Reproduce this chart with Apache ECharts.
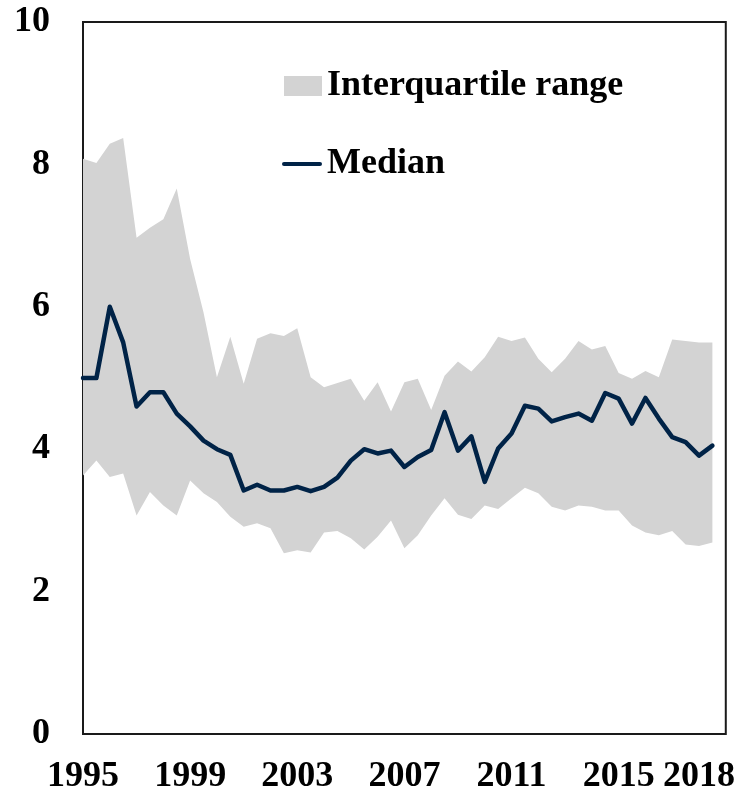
<!DOCTYPE html>
<html>
<head>
<meta charset="utf-8">
<script src="https://cdn.jsdelivr.net/npm/echarts@6/dist/echarts.min.js"></script>
<style>
  html, body { margin: 0; padding: 0; background: #fff; }
  #chart { width: 738px; height: 795px; }
</style>
</head>
<body>
<div id="chart"></div>
<script>
// half-year periods, last one left empty so the axis runs past the data
const periods = [
  '1995H1', '1995H2', '1996H1', '1996H2', '1997H1', '1997H2', '1998H1', '1998H2',
  '1999H1', '1999H2', '2000H1', '2000H2', '2001H1', '2001H2', '2002H1', '2002H2',
  '2003H1', '2003H2', '2004H1', '2004H2', '2005H1', '2005H2', '2006H1', '2006H2',
  '2007H1', '2007H2', '2008H1', '2008H2', '2009H1', '2009H2', '2010H1', '2010H2',
  '2011H1', '2011H2', '2012H1', '2012H2', '2013H1', '2013H2', '2014H1', '2014H2',
  '2015H1', '2015H2', '2016H1', '2016H2', '2017H1', '2017H2', '2018H1', '2018H2',
  '2019H1'
]
const xTickLabels = ['1995', '1999', '2003', '2007', '2011', '2015', '2018']
const yTickLabels = [0, 2, 4, 6, 8, 10]

const median = [
  5.00, 5.00, 6.00, 5.50, 4.60, 4.80, 4.80, 4.50, 4.32, 4.12,
  4.00, 3.92, 3.42, 3.50, 3.42, 3.42, 3.47, 3.41, 3.47, 3.60,
  3.84, 4.00, 3.94, 3.98, 3.75, 3.89, 3.99, 4.52, 3.98, 4.18,
  3.54, 4.01, 4.22, 4.61, 4.57, 4.39, 4.45, 4.50, 4.40, 4.79,
  4.71, 4.36, 4.72, 4.43, 4.17, 4.10, 3.91, 4.05
]
const upperQuartile = [
  8.08, 8.02, 8.29, 8.37, 6.97, 7.11, 7.23, 7.66, 6.67, 5.92,
  5.01, 5.58, 4.92, 5.55, 5.63, 5.59, 5.70, 5.01, 4.87, 4.93,
  4.99, 4.68, 4.94, 4.53, 4.94, 4.99, 4.55, 5.03, 5.23, 5.09,
  5.29, 5.58, 5.52, 5.57, 5.27, 5.08, 5.27, 5.52, 5.40, 5.45,
  5.07, 4.99, 5.10, 5.01, 5.54, 5.52, 5.50, 5.50
]
const lowerQuartile = [
  3.63, 3.84, 3.61, 3.66, 3.07, 3.40, 3.21, 3.07, 3.56, 3.38,
  3.26, 3.05, 2.91, 2.96, 2.89, 2.54, 2.58, 2.55, 2.83, 2.85,
  2.75, 2.59, 2.77, 3.00, 2.61, 2.79, 3.07, 3.31, 3.08, 3.02,
  3.21, 3.16, 3.31, 3.46, 3.38, 3.19, 3.14, 3.21, 3.19, 3.14,
  3.14, 2.93, 2.83, 2.79, 2.85, 2.66, 2.64, 2.69
]

const font = "'Liberation Serif', 'Times New Roman', serif"
const bandColor = '#d3d3d3'
const lineColor = '#002347'

// stacked band: transparent base at the lower quartile, grey height on top
const bandHeight = upperQuartile.map((u, i) => +(u - lowerQuartile[i]).toFixed(2))

const chart = echarts.init(document.getElementById('chart'), null, { renderer: 'canvas' })

const legendText = { fontFamily: font, fontWeight: 'bold', fontSize: 36, color: '#000' }

chart.setOption({
  animation: false,
  grid: {
    left: 83, right: 10, top: 22, bottom: 59,
    show: true,
    borderColor: '#1a1a1a',
    borderWidth: 2,
    backgroundColor: 'transparent'
  },
  legend: [
    {
      data: ['Interquartile range'],
      left: 279, top: 63,
      icon: 'rect',
      itemWidth: 38, itemHeight: 20,
      textStyle: legendText
    },
    {
      data: ['Median'],
      left: 277, top: 141,
      icon: 'path://M2,0 L38,0 A2,2 0 0 1 38,4 L2,4 A2,2 0 0 1 2,0 Z',
      itemWidth: 40, itemHeight: 4.5,
      textStyle: legendText
    }
  ],
  xAxis: {
    type: 'category',
    data: periods,
    boundaryGap: false,
    axisLine: { show: false },
    axisTick: { show: false },
    splitLine: { show: false },
    axisLabel: {
      interval: (idx, val) => xTickLabels.includes(val.slice(0, 4)) && val.endsWith('H1'),
      formatter: (val) => val.slice(0, 4),
      margin: 25,
      fontFamily: font,
      fontWeight: 'bold',
      fontSize: 36,
      color: '#000'
    }
  },
  yAxis: {
    type: 'value',
    min: yTickLabels[0],
    max: yTickLabels[yTickLabels.length - 1],
    interval: 2,
    axisLine: { show: false },
    axisTick: { show: false },
    splitLine: { show: false },
    axisLabel: {
      margin: 33,
      fontFamily: font,
      fontWeight: 'bold',
      fontSize: 36,
      color: '#000'
    }
  },
  series: [
    {
      name: 'lower',
      type: 'line',
      stack: 'band',
      data: lowerQuartile,
      symbol: 'none',
      lineStyle: { opacity: 0 },
      silent: true
    },
    {
      name: 'Interquartile range',
      type: 'line',
      stack: 'band',
      data: bandHeight,
      symbol: 'none',
      lineStyle: { opacity: 0 },
      itemStyle: { color: bandColor },
      areaStyle: { color: bandColor, opacity: 1 },
      silent: true
    },
    {
      name: 'Median',
      type: 'line',
      data: median,
      symbol: 'none',
      z: 3,
      lineStyle: { width: 4.5, color: lineColor, cap: 'round', join: 'round' },
      itemStyle: { color: lineColor }
    }
  ]
})
</script>
</body>
</html>
